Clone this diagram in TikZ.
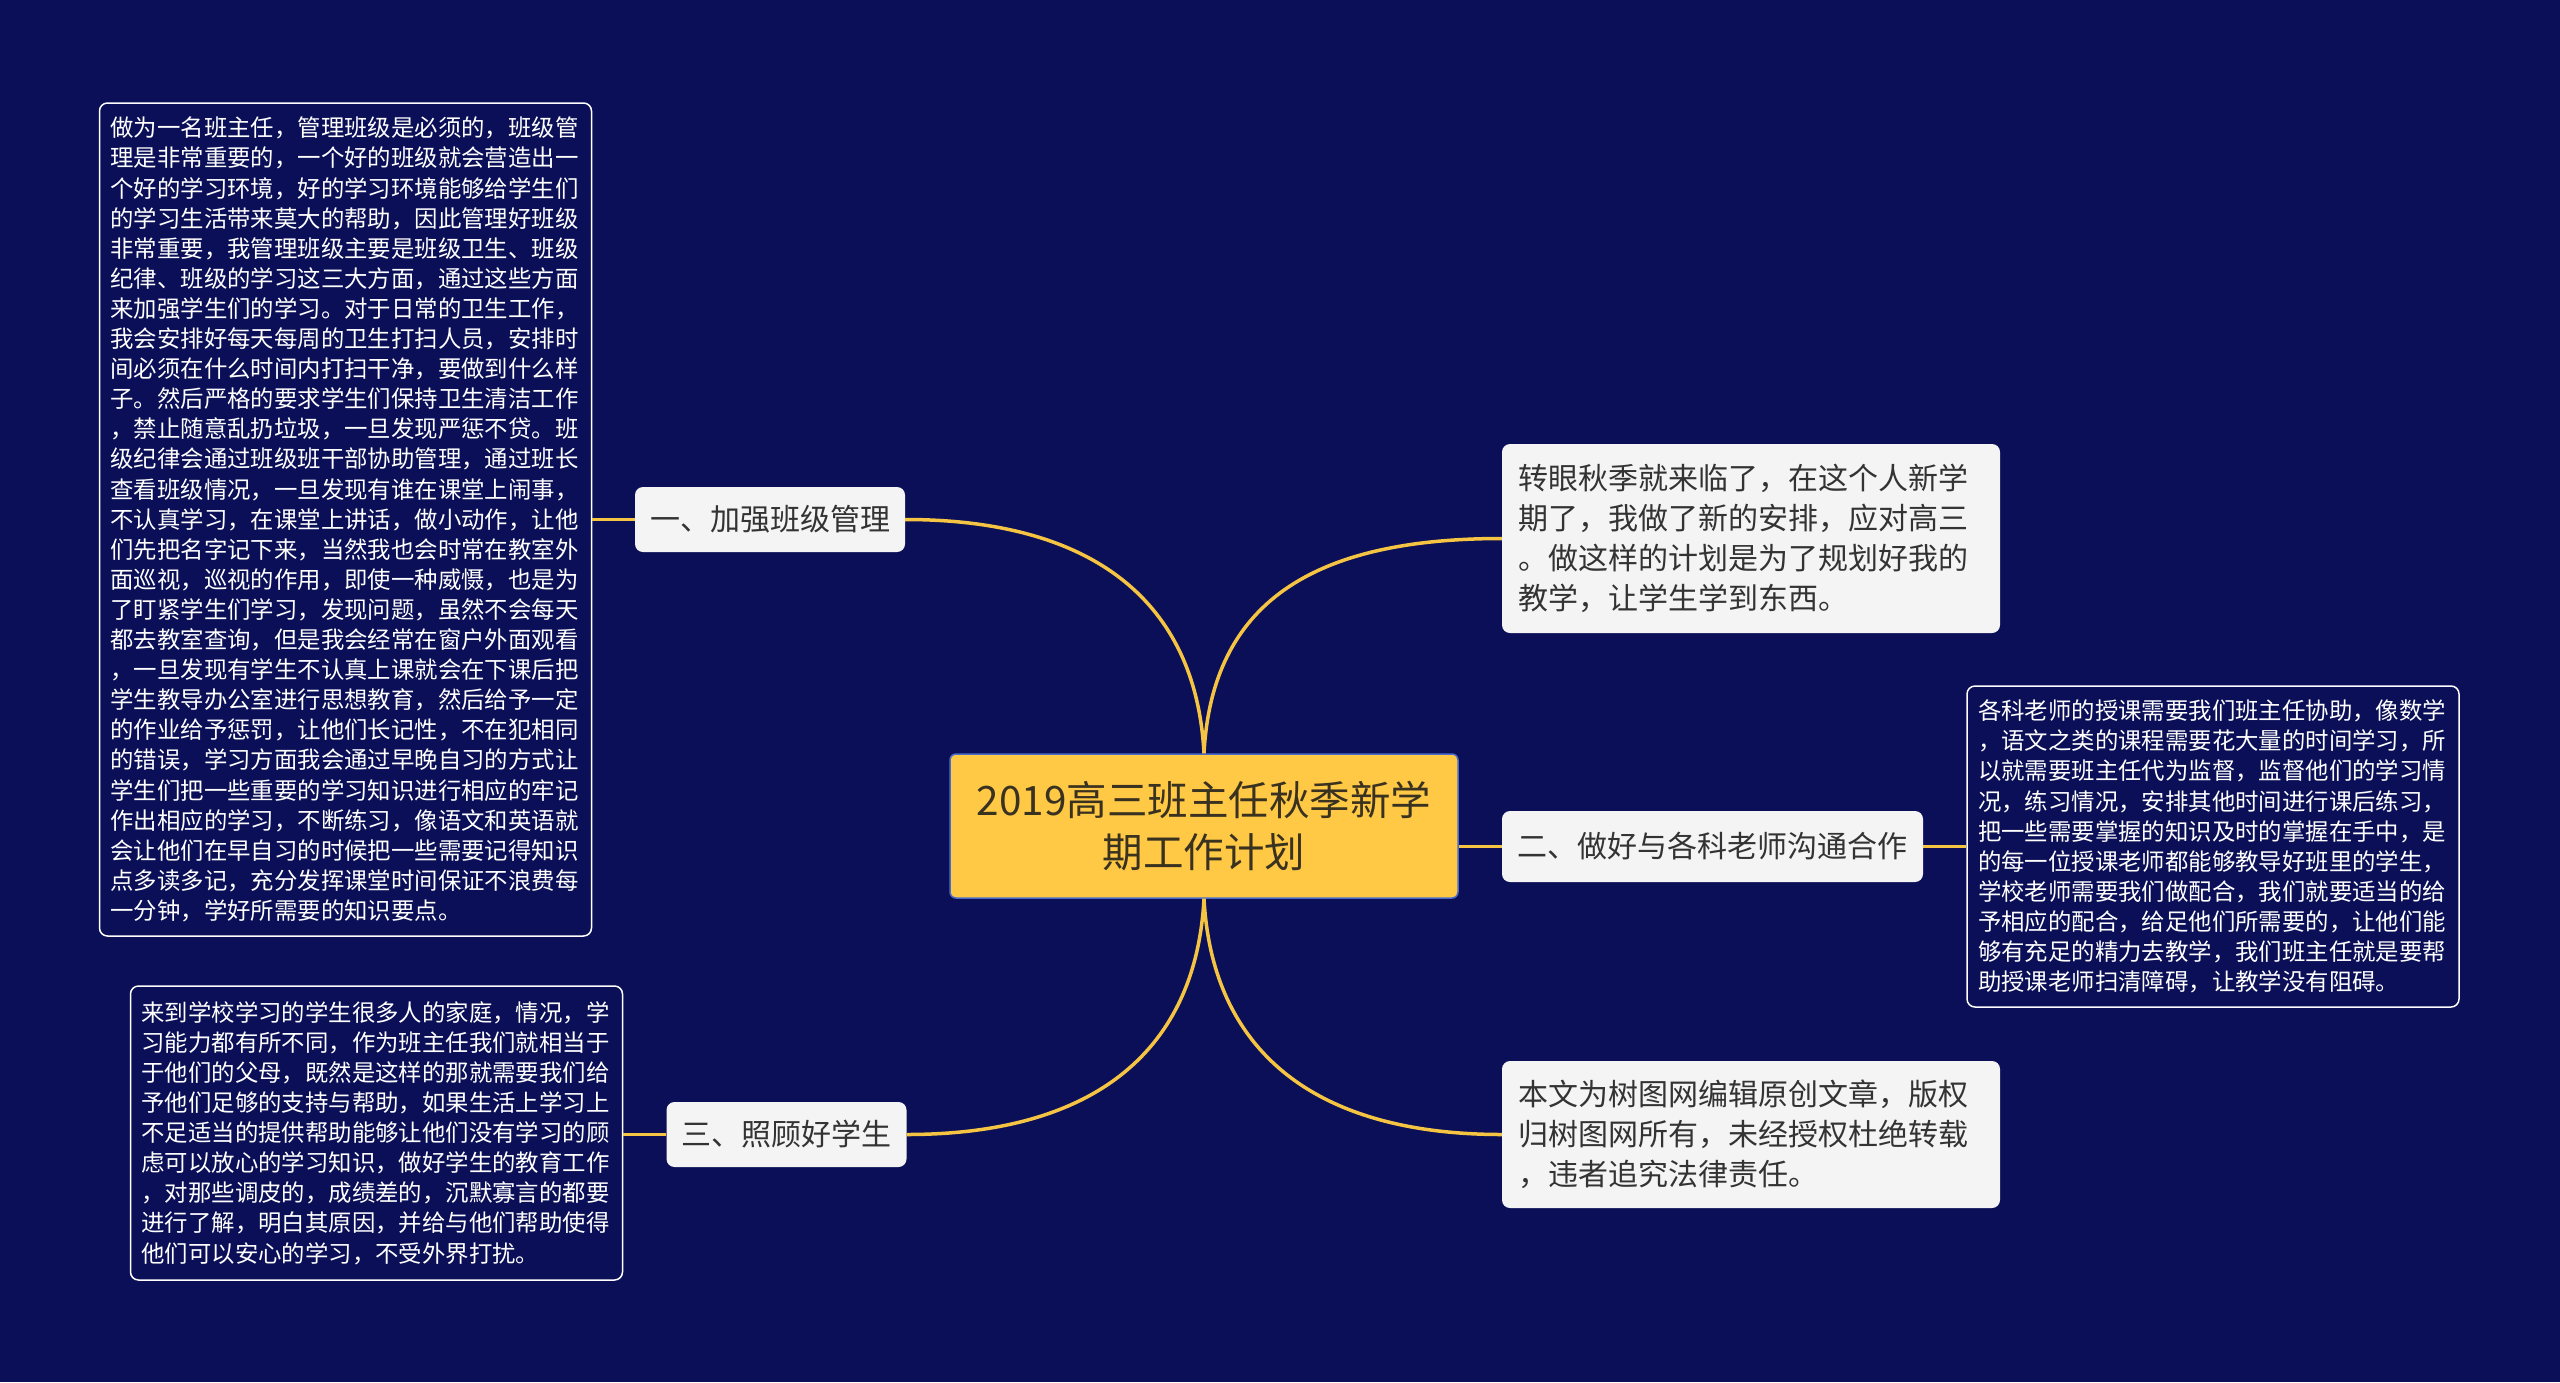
\documentclass[tikz,border=0pt]{standalone}
\usepackage{fontspec}
\setmainfont{Noto Sans CJK SC}
\definecolor{bg}{HTML}{0A0F57}
\definecolor{link}{HTML}{F5C443}
\definecolor{lblfill}{HTML}{F4F4F4}
\definecolor{lbltext}{HTML}{333333}
\definecolor{rootfill}{HTML}{FFC845}
\definecolor{rootdraw}{HTML}{4A6CC8}
\definecolor{roottext}{HTML}{3A3220}
\tikzset{
  textbox/.style={draw=white, line width=1.5pt, rounded corners=8pt, fill=bg,
    text=white, align=left, font=\fontsize{23.4}{30.1}\selectfont,
    inner xsep=11pt, inner ysep=0pt, text width=470pt, anchor=center},
  lbl/.style={draw=none, rounded corners=8pt, fill=lblfill, text=lbltext,
    font=\fontsize{30}{40}\selectfont, inner xsep=15pt, inner ysep=0pt, anchor=center},
  bigtext/.style={lbl, align=left, text width=466pt},
  rootnode/.style={draw=rootdraw, line width=1.5pt, rounded corners=6pt, fill=rootfill,
    text=roottext, align=center, font=\fontsize{40.5}{52}\selectfont, anchor=center},
  linkline/.style={draw=link, line width=3.5pt}
}
\begin{document}
\begin{tikzpicture}[x=1pt,y=-1pt]
\fill[bg] (0,0) rectangle (2560,1382);
\useasboundingbox (0,0) rectangle (2560,1382);

\node[rootnode, minimum width=508pt, minimum height=144pt] (root) at (1204,826)
  {2019高三班主任秋季新学\\期工作计划};

\node[lbl, minimum width=270pt, minimum height=65pt] (one) at (770,519.5) {一、加强班级管理};
\node[lbl, minimum width=237pt, minimum height=65pt] (three) at (786.5,1134.5) {三、照顾好学生};
\node[lbl, minimum width=421pt, minimum height=71pt] (two) at (1712.5,846.5) {二、做好与各科老师沟通合作};
\node[bigtext, minimum width=498pt, minimum height=189pt] (intro) at (1751,538.5)
  {转眼秋季就来临了，在这个人新学\\期了，我做了新的安排，应对高三\\。做这样的计划是为了规划好我的\\教学，让学生学到东西。};
\node[bigtext, minimum width=498pt, minimum height=147pt] (copy) at (1751,1134.5)
  {本文为树图网编辑原创文章，版权\\归树图网所有，未经授权杜绝转载\\，违者追究法律责任。};

\node[textbox, minimum height=833pt] (leftbox) at (345.5,519.5)
  {做为一名班主任，管理班级是必须的，班级管\\
理是非常重要的，一个好的班级就会营造出一\\
个好的学习环境，好的学习环境能够给学生们\\
的学习生活带来莫大的帮助，因此管理好班级\\
非常重要，我管理班级主要是班级卫生、班级\\
纪律、班级的学习这三大方面，通过这些方面\\
来加强学生们的学习。对于日常的卫生工作，\\
我会安排好每天每周的卫生打扫人员，安排时\\
间必须在什么时间内打扫干净，要做到什么样\\
子。然后严格的要求学生们保持卫生清洁工作\\
，禁止随意乱扔垃圾，一旦发现严惩不贷。班\\
级纪律会通过班级班干部协助管理，通过班长\\
查看班级情况，一旦发现有谁在课堂上闹事，\\
不认真学习，在课堂上讲话，做小动作，让他\\
们先把名字记下来，当然我也会时常在教室外\\
面巡视，巡视的作用，即使一种威慑，也是为\\
了盯紧学生们学习，发现问题，虽然不会每天\\
都去教室查询，但是我会经常在窗户外面观看\\
，一旦发现有学生不认真上课就会在下课后把\\
学生教导办公室进行思想教育，然后给予一定\\
的作业给予惩罚，让他们长记性，不在犯相同\\
的错误，学习方面我会通过早晚自习的方式让\\
学生们把一些重要的学习知识进行相应的牢记\\
作出相应的学习，不断练习，像语文和英语就\\
会让他们在早自习的时候把一些需要记得知识\\
点多读多记，充分发挥课堂时间保证不浪费每\\
一分钟，学好所需要的知识要点。};

\node[textbox, minimum height=294pt] (blbox) at (376.5,1133)
  {来到学校学习的学生很多人的家庭，情况，学\\
习能力都有所不同，作为班主任我们就相当于\\
于他们的父母，既然是这样的那就需要我们给\\
予他们足够的支持与帮助，如果生活上学习上\\
不足适当的提供帮助能够让他们没有学习的顾\\
虑可以放心的学习知识，做好学生的教育工作\\
，对那些调皮的，成绩差的，沉默寡言的都要\\
进行了解，明白其原因，并给与他们帮助使得\\
他们可以安心的学习，不受外界打扰。};

\node[textbox, minimum height=321pt, text width=470pt, inner xsep=11pt] (rbox) at (2213,846.5)
  {各科老师的授课需要我们班主任协助，像数学\\
，语文之类的课程需要花大量的时间学习，所\\
以就需要班主任代为监督，监督他们的学习情\\
况，练习情况，安排其他时间进行课后练习，\\
把一些需要掌握的知识及时的掌握在手中，是\\
的每一位授课老师都能够教导好班里的学生，\\
学校老师需要我们做配合，我们就要适当的给\\
予相应的配合，给足他们所需要的，让他们能\\
够有充足的精力去教学，我们班主任就是要帮\\
助授课老师扫清障碍，让教学没有阻碍。};

% connectors
\draw[linkline] (root.north) .. controls +(-8,-150) and +(190,0) .. (one.east);
\draw[linkline] (root.north) .. controls +(8,-150) and +(-190,0) .. (intro.west);
\draw[linkline] (root.south) .. controls +(-8,150) and +(190,0) .. (three.east);
\draw[linkline] (root.south) .. controls +(8,150) and +(-190,0) .. (copy.west);
\draw[linkline] (root.east |- two.west) -- (two.west);
\draw[linkline] (two.east) -- (rbox.west |- two.east);
\draw[linkline] (one.west) -- (leftbox.east |- one.west);
\draw[linkline] (three.west) -- (blbox.east |- three.west);
\end{tikzpicture}
\end{document}
